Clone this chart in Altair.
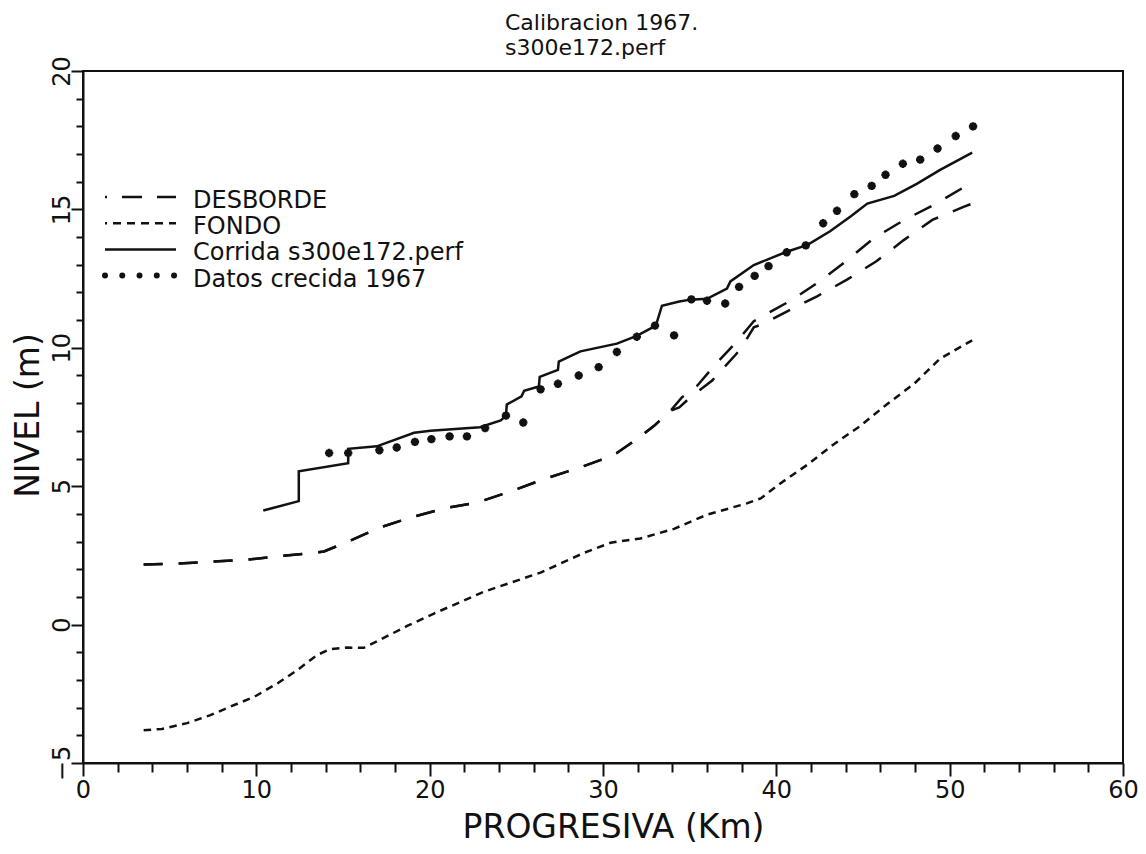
import altair as alt
import pandas as pd

# ---- Datos de la corrida (progresiva en km, nivel en m) ----
# Tramo común de las dos líneas de desborde
desborde_comun_km = [3.5, 5.4, 7.35, 9.4, 11.5, 13.4, 13.9, 15.3, 17.05, 18.9, 20.85,
                     22.8, 24.7, 26.6, 28.55, 30.35, 30.8, 31.95, 32.95, 33.9]
desborde_comun_nivel = [2.17, 2.2, 2.27, 2.34, 2.48, 2.6, 2.64, 3.0, 3.49, 3.87, 4.2,
                        4.42, 4.82, 5.26, 5.65, 6.06, 6.2, 6.7, 7.18, 7.73]
# Desborde, rama superior
desborde_a_km = [34.55, 35.45, 36.4, 37.75, 38.7, 39.65, 40.9, 42.5, 44.1, 45.6,
                 47.3, 49.1, 50.85, 51.3]
desborde_a_nivel = [8.21, 8.64, 9.34, 10.25, 10.96, 11.3, 11.73, 12.4, 13.17, 13.95,
                    14.59, 15.17, 15.81, 15.96]
# Desborde, rama inferior
desborde_b_km = [34.4, 35.15, 36.3, 37.65, 37.95, 38.7, 39.3, 40.6, 42.35, 44.1,
                 45.75, 47.35, 49.0, 50.8, 51.3]
desborde_b_nivel = [7.85, 8.27, 8.82, 9.75, 9.97, 10.74, 10.88, 11.31, 11.86, 12.47,
                    13.12, 13.89, 14.62, 15.09, 15.21]

fondo_km = [3.5, 4.55, 6.0, 7.35, 8.9, 9.85, 11.2, 12.35, 13.5, 14.25, 15.2, 16.2,
            17.35, 18.7, 20.25, 21.75, 23.1, 24.65, 26.4, 28.9, 30.45, 32.15, 34.1,
            36.0, 38.3, 39.1, 40.25, 41.8, 43.3, 44.85, 46.4, 47.95, 49.45, 51.3]
fondo_nivel = [-3.82, -3.77, -3.56, -3.27, -2.86, -2.62, -2.13, -1.65, -1.1, -0.89,
               -0.83, -0.84, -0.48, -0.05, 0.4, 0.81, 1.18, 1.51, 1.88, 2.59, 2.96,
               3.11, 3.46, 3.97, 4.38, 4.56, 5.11, 5.78, 6.51, 7.18, 7.97, 8.7, 9.61,
               10.27]

corrida_km = [10.4, 12.45, 12.45, 15.3, 15.3, 16.95, 19.1, 20.05, 22.9, 24.1, 24.4,
              24.45, 25.3, 25.45, 26.3, 26.35, 27.4, 27.45, 28.3, 28.7, 30.8, 31.95,
              33.05, 33.4, 34.4, 35.05, 36.0, 37.15, 37.35, 38.7, 40.6, 41.8, 43.1,
              44.3, 45.25, 46.8, 48.1, 49.45, 51.3]
corrida_nivel = [4.12, 4.46, 5.54, 5.83, 6.35, 6.44, 6.93, 7.0, 7.13, 7.38, 7.55,
                 7.95, 8.25, 8.45, 8.6, 8.95, 9.2, 9.5, 9.75, 9.87, 10.15, 10.43,
                 10.8, 11.52, 11.67, 11.74, 11.77, 12.14, 12.4, 12.99, 13.47, 13.72,
                 14.21, 14.75, 15.21, 15.49, 15.92, 16.43, 17.05]

crecida_km = [14.2, 15.3, 17.1, 18.1, 19.15, 20.1, 21.15, 22.15, 23.2, 24.4, 25.4,
              26.4, 27.4, 28.6, 29.75, 30.8, 31.95, 33.0, 34.1, 35.1, 36.0, 37.05,
              37.85, 38.75, 39.55, 40.6, 41.7, 42.7, 43.5, 44.5, 45.5, 46.3, 47.3,
              48.3, 49.3, 50.35, 51.35]
crecida_nivel = [6.2, 6.2, 6.3, 6.4, 6.6, 6.7, 6.8, 6.8, 7.1, 7.55, 7.3, 8.5, 8.7,
                 9.0, 9.3, 9.85, 10.4, 10.8, 10.45, 11.75, 11.7, 11.6, 12.2, 12.6,
                 12.95, 13.45, 13.7, 14.5, 14.95, 15.55, 15.85, 16.25, 16.65, 16.8,
                 17.2, 17.65, 18.0]

titulo = ["Calibracion 1967.", "s300e172.perf"]
leyenda = ["DESBORDE", "FONDO", "Corrida s300e172.perf", "Datos crecida 1967"]

FUENTE = "DejaVu Sans"
NEGRO = "#111111"


def tabla(km, nivel, tramo="unico"):
    return pd.DataFrame({"km": km, "nivel": nivel, "tramo": tramo,
                         "orden": list(range(len(km)))})


desborde = pd.concat([
    tabla(desborde_comun_km + desborde_a_km, desborde_comun_nivel + desborde_a_nivel, "sup"),
    tabla(desborde_comun_km + desborde_b_km, desborde_comun_nivel + desborde_b_nivel, "inf"),
])
fondo = tabla(fondo_km, fondo_nivel)
corrida = tabla(corrida_km, corrida_nivel)
crecida = tabla(crecida_km, crecida_nivel)

eje_x = alt.Axis(
    values=list(range(0, 61, 2)),
    labelExpr="datum.value % 10 === 0 ? datum.label : ''",
    tickSize={"condition": {"test": "datum.value % 10 === 0", "value": 13}, "value": 9},
    labelPadding=2, labelOverlap=False, labelFlush=False,
    titleX=530, titleY=74, titleAlign="center", titleBaseline="alphabetic",
)
eje_y = alt.Axis(
    values=list(range(-5, 21)),
    labelExpr="datum.value % 5 === 0 ? datum.label : ''",
    tickSize={"condition": {"test": "datum.value % 5 === 0", "value": 12}, "value": 7},
    labelAngle=270, labelAlign="center", labelBaseline="alphabetic",
    labelPadding=2, labelOverlap=False, labelFlush=False,
    titleAngle=270, titleX=-45, titleY=344, titleAlign="center",
    titleBaseline="alphabetic",
)

X = alt.X("km:Q", scale=alt.Scale(domain=[0, 60], nice=False, zero=False),
          axis=eje_x, title="PROGRESIVA (Km)")
Y = alt.Y("nivel:Q", scale=alt.Scale(domain=[-5, 20], nice=False, zero=False),
          axis=eje_y, title="NIVEL (m)")

capa_desborde = alt.Chart(desborde).mark_line(
    color=NEGRO, strokeWidth=2.5, strokeDash=[19, 16]
).encode(x=X, y=Y, detail="tramo:N", order="orden:Q")

capa_fondo = alt.Chart(fondo).mark_line(
    color=NEGRO, strokeWidth=2.5, strokeDash=[7.5, 5.5]
).encode(x=X, y=Y, order="orden:Q")

capa_corrida = alt.Chart(corrida).mark_line(
    color=NEGRO, strokeWidth=2.5
).encode(x=X, y=Y, order="orden:Q")

ASTERISCO = "M-1,0L1,0M0,-1L0,1M-0.7,-0.7L0.7,0.7M-0.7,0.7L0.7,-0.7"
capa_crecida = alt.Chart(crecida).mark_point(
    shape=ASTERISCO, size=70, filled=False, stroke=NEGRO, strokeWidth=2.6, opacity=1
).encode(x=X, y=Y)

# ---- Leyenda dibujada dentro del área del gráfico ----
muestras = [
    dict(strokeDash=[2, 15, 20, 15, 20, 15], strokeWidth=2.5),
    dict(strokeDash=[2, 6, 8, 6, 8, 6, 8, 6, 8, 6, 8, 6], strokeWidth=2.5),
    dict(strokeWidth=2.5),
    dict(strokeDash=[0.01, 17.25], strokeWidth=6, strokeCap="round"),
]
capas_leyenda = []
for i, (texto, estilo) in enumerate(zip(leyenda, muestras)):
    y_linea = 126 + i * 26.2
    capas_leyenda.append(
        alt.Chart(pd.DataFrame({"t": [texto]})).mark_rule(color=NEGRO, **estilo).encode(
            x=alt.value(22), x2=alt.value(93), y=alt.value(y_linea)
        )
    )
    capas_leyenda.append(
        alt.Chart(pd.DataFrame({"t": [texto]})).mark_text(
            align="left", baseline="alphabetic", font=FUENTE, fontSize=24, color=NEGRO
        ).encode(x=alt.value(110), y=alt.value(y_linea + 11), text="t:N")
    )

# ---- Título en dos renglones ----
capas_titulo = []
for i, linea in enumerate(titulo):
    capas_titulo.append(
        alt.Chart(pd.DataFrame({"t": [linea]})).mark_text(
            align="left", baseline="alphabetic", font=FUENTE, fontSize=22, color=NEGRO
        ).encode(x=alt.value(422), y=alt.value(-41 + i * 25), text="t:N")
    )

chart = alt.layer(
    capa_desborde, capa_fondo, capa_corrida, capa_crecida,
    *capas_leyenda, *capas_titulo
).properties(
    width=1040,
    height=692,
    autosize=alt.AutoSizeParams(type="none"),
    padding={"left": 83, "top": 71, "right": 23, "bottom": 91},
    background="white",
).configure_view(
    stroke=NEGRO, strokeWidth=2
).configure_axis(
    grid=False,
    domainColor=NEGRO, domainWidth=2,
    tickColor=NEGRO, tickWidth=2,
    labelFont=FUENTE, labelFontSize=24, labelColor=NEGRO,
    titleFont=FUENTE, titleFontSize=33, titleFontWeight="normal", titleColor=NEGRO,
)

chart.save("out.html", embed_options={"renderer": "svg", "actions": False})
